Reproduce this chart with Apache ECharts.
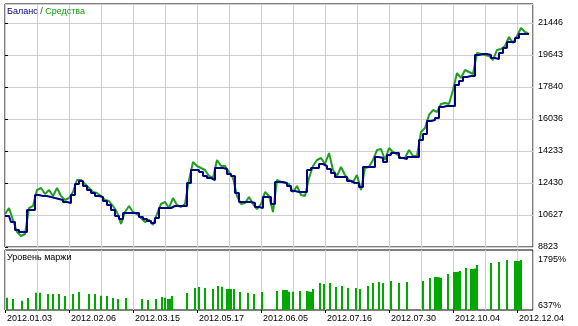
<!DOCTYPE html>
<html><head><meta charset="utf-8">
<script src="https://cdn.jsdelivr.net/npm/echarts@6/dist/echarts.min.js"></script>
<style>html,body{margin:0;padding:0;background:#fff}#c{width:578px;height:326px}</style>
</head><body><div id="c"></div>
<script>
const dateLabels = ['2012.01.03','2012.02.06','2012.03.15','2012.05.17','2012.06.05','2012.07.16','2012.07.30','2012.10.04','2012.12.04'];
const balanceTicks = [8823,10627,12430,14233,16036,17840,19643,21446];
const marginTicks = [637,1795];
const balance = [10570,10570,10232,9781,9668,9668,10908,10908,11753,11697,
 11697,11641,11584,11528,11472,11359,11303,11753,12373,12542,
 12261,12035,11866,11697,11641,11415,11190,10908,10570,10401,
 10739,10739,10739,10739,10514,10401,10288,10175,10457,11021,
 11021,11021,11133,11133,11133,11133,12430,13162,13162,13049,
 12824,12711,12599,13275,13275,13219,12937,12824,11866,11359,
 11359,11359,11303,11077,11021,11641,11641,11246,12486,12486,
 12430,12261,11979,11922,11922,11922,13162,13275,13275,13500,
 13388,13219,12993,12768,12768,12768,12542,12430,12430,12204,
 13331,13331,13331,13895,13838,13613,14007,14120,14120,13838,
 13782,13895,13895,13895,14853,15191,15923,15980,16093,16712,
 16769,16769,16769,17952,18178,18403,18459,18459,19643,19699,
 19699,19643,19474,19417,19755,20037,20375,20375,20601,20826,
 20826,20826];
const equity = [10683,11021,10345,9668,9443,9556,11021,11133,12035,12148,
 11810,12035,11697,12148,11697,11472,11584,11922,12599,12599,
 12373,12148,11922,11866,11697,11472,11415,11133,10795,10119,
 10795,11133,10795,10683,10457,10232,10345,10063,10683,11246,
 11359,11021,11584,11190,11077,11246,12599,13613,13388,13275,
 13162,12824,12711,13726,13388,13388,13049,12711,11697,11246,
 11303,11641,11246,10964,11246,11922,11697,10795,12599,12486,
 12430,12373,11922,12261,11753,11697,12711,13388,13726,13838,
 13500,14120,13162,12824,13331,12880,12599,12486,12880,12035,
 13275,13331,13726,14289,14346,13726,14402,14177,14064,13838,
 13838,14289,13951,13951,15304,15529,16262,16543,16431,16881,
 16938,16881,17670,18628,18347,18798,18685,18572,19755,19699,
 19643,19586,19361,19925,19981,20150,20657,20319,20713,21164,
 20939,20826];
const marginX = [0.5,2,4.25,5.75,7.75,8.75,10.75,12,13.5,15,17,18.5,21,22.5,24,25.5,27,28.25,30.25,34.25,
 35.75,37.75,39.25,40,40.75,41.25,41.75,45.5,47.5,48.5,50,52,53.25,54.25,55.5,56,56.5,57.25,58.75,60.75,
 62.25,64.25,68,69.5,70,70.5,71,72,73.75,75.5,76,76.5,77,78.75,79.75,81.25,82.75,84.25,85.75,87.75,
 88.75,90.75,92,93.5,94.5,96.5,98.5,100.5,104.5,106.25,107.5,108,108.5,109,110.75,112.25,112.75,113.25,113.75,115.25,
 116.5,117,117.5,118,121.5,123.5,125.5,127.5,128,128.5,129];
const marginLevel = [844,811,769,836,968,968,936,936,936,886,936,986,936,936,893,886,836,811,836,811,
 786,811,861,844,811,820,886,961,1085,1110,1085,1060,1135,1118,1060,1060,1060,1060,986,968,
 936,986,1011,1035,1035,1035,993,993,1011,1011,1000,993,1060,1210,1185,1210,1110,1135,1085,1085,
 1060,1135,1210,1235,1210,1260,1210,1235,1260,1334,1359,1359,1350,1340,1434,1484,1484,1490,1510,1583,
 1558,1558,1570,1658,1708,1733,1782,1758,1758,1758,1782];

const FONT = 'Liberation Sans';
const FS = 9;
const BAL_MIN = 8823, BAL_MAX = 22517;
const dateTickPos = dateLabels.map((d,i)=>i*16);
function split(){ return {show:true, lineStyle:{color:'#cfcfcf', type:'solid', width:1}}; }
const chart = echarts.init(document.getElementById('c'), null, {renderer:'canvas'});
chart.setOption({
  animation:false,
  backgroundColor:'#fff',
  title:[
    {left:7, top:7, padding:0, text:'{a|Баланс} {s|/} {b|Средства}',
     textStyle:{fontFamily:FONT, fontSize:FS, fontWeight:'normal',
       rich:{a:{color:'#000080',fontFamily:FONT,fontSize:FS},s:{color:'#333',fontFamily:FONT,fontSize:FS},b:{color:'#0a9a0a',fontFamily:FONT,fontSize:FS}}}},
    {left:7, top:253, padding:0, text:'Уровень маржи', textStyle:{fontFamily:FONT, fontSize:FS, fontWeight:'normal', color:'#000'}}
  ],
  grid:[
    {left:5, top:4, width:528, height:243, show:true, borderColor:'#000', borderWidth:1},
    {left:5, top:250, width:528, height:60, show:true, borderColor:'#000', borderWidth:1}
  ],
  xAxis:[
    {type:'value', gridIndex:0, position:'bottom', min:0, max:132, interval:8, axisLine:{show:false}, axisTick:{show:false}, axisLabel:{show:false}, splitLine:split()},
    {type:'value', gridIndex:1, position:'bottom', min:0, max:132, interval:16, axisLine:{show:false},
     axisTick:{show:true, length:3, customValues:dateTickPos, lineStyle:{color:'#000'}},
     axisLabel:{show:true, customValues:dateTickPos, align:'left', margin:4, padding:[0,0,0,2], fontFamily:FONT, fontSize:FS, color:'#000',
       formatter:(v)=> dateLabels[Math.round(v/16)] || ''},
     splitLine:{show:false}},
    {type:'value', gridIndex:1, position:'bottom', min:0, max:132, interval:8, axisLine:{show:false}, axisTick:{show:false}, axisLabel:{show:false}, splitLine:split()}
  ],
  yAxis:[
    {type:'value', gridIndex:0, position:'right', min:BAL_MIN, max:BAL_MAX, axisLine:{show:false},
     axisTick:{show:true, length:3, customValues:balanceTicks, lineStyle:{color:'#000'}},
     axisLabel:{customValues:balanceTicks, margin:5, fontFamily:FONT, fontSize:FS, color:'#000', verticalAlign:'middle', padding:[0,0,6,0], formatter:(v)=>String(Math.round(v))},
     splitLine:{show:false}},
    {type:'value', gridIndex:1, position:'right', min:537, max:2031, axisLine:{show:false},
     axisTick:{show:false, customValues:marginTicks},
     axisLabel:{customValues:marginTicks, margin:5, fontFamily:FONT, fontSize:FS, color:'#000', verticalAlign:'middle', padding:[0,0,6,0], formatter:(v)=>Math.round(v)+'%'},
     splitLine:{show:false}},
    // helper axis measured from the lowest balance tick, used only for the horizontal grid lines
    {type:'value', gridIndex:0, position:'left', min:0, max:BAL_MAX - BAL_MIN,
     interval:(balanceTicks[balanceTicks.length-1] - balanceTicks[0]) / (balanceTicks.length - 1),
     axisLine:{show:false}, axisTick:{show:false}, axisLabel:{show:false}, splitLine:split()}
  ],
  series:[
    {type:'line', xAxisIndex:0, yAxisIndex:0, data:equity.map((v,i)=>[i,v]), symbol:'none', lineStyle:{color:'#1ea01e', width:2}, z:2},
    {type:'line', xAxisIndex:0, yAxisIndex:0, data:balance.map((v,i)=>[i,v]), step:'middle', symbol:'none', lineStyle:{color:'#000080', width:2}, z:3},
    {type:'bar', xAxisIndex:1, yAxisIndex:1, data:marginX.map((x,i)=>[x, marginLevel[i]]), barWidth:2, itemStyle:{color:'#00a800'}, z:3}
  ]
});
</script></body></html>
